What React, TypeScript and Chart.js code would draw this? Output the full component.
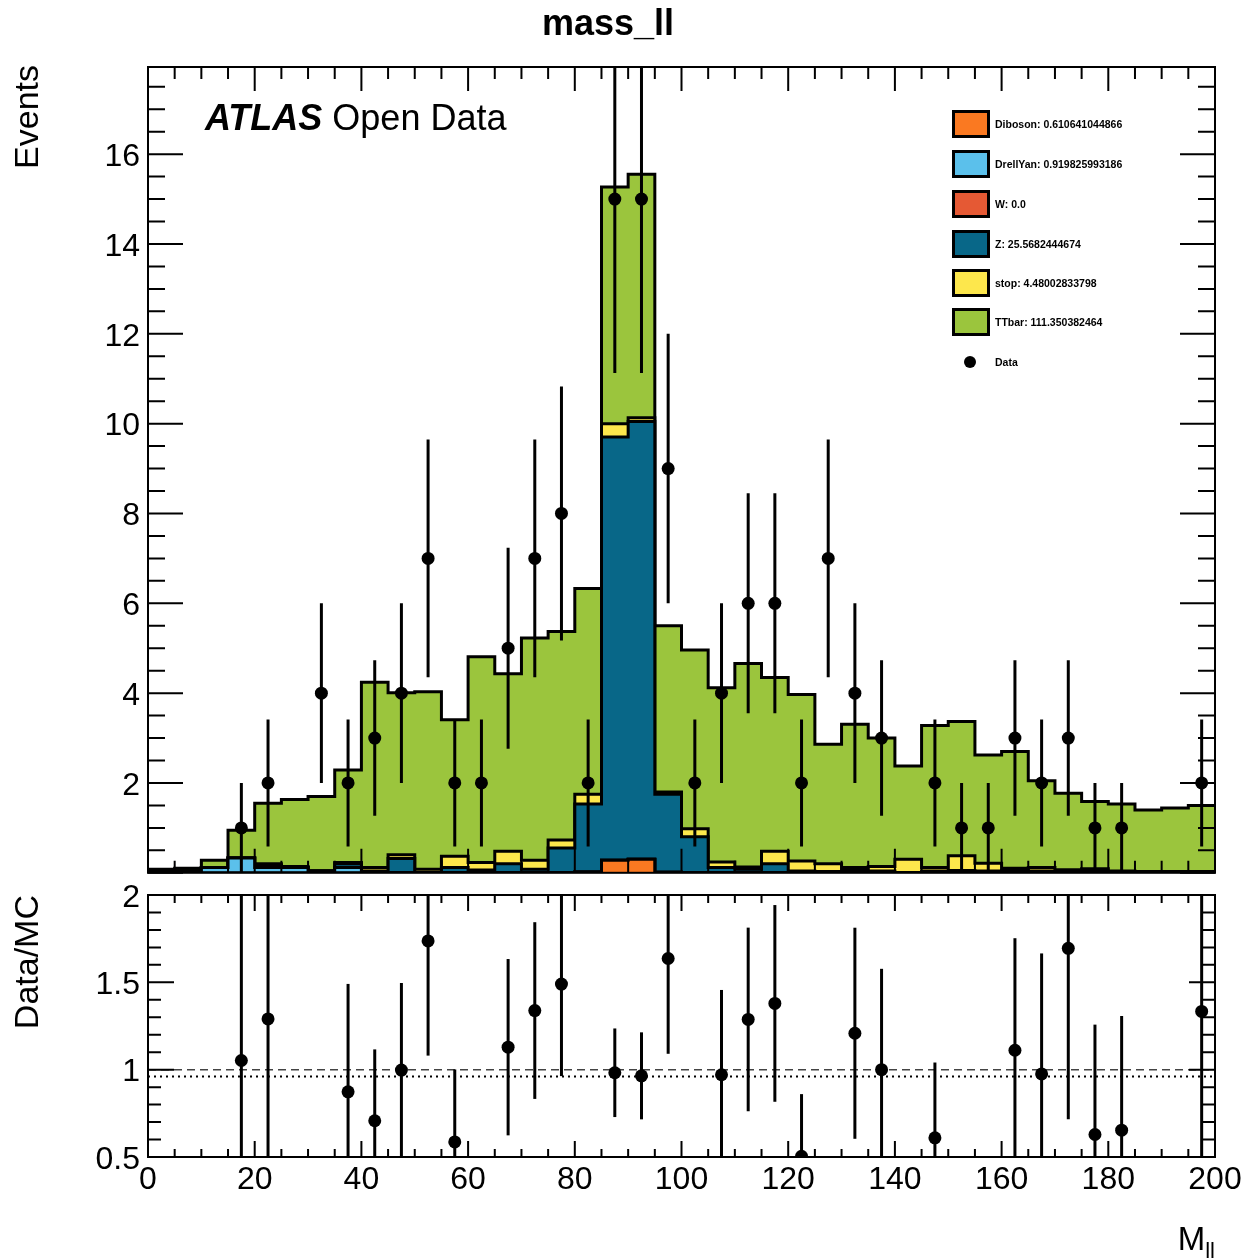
import React, { useEffect, useRef } from 'react';
import { Chart, registerables } from 'chart.js';

Chart.register(...registerables);

const FONT = '"Liberation Sans", Arial, Helvetica, sans-serif';

// ---- binning (M_ll, GeV) ----
const binLow = [0, 5, 10, 15, 20, 25, 30, 35, 40, 45, 50, 55, 60, 65, 70, 75, 80, 85, 90, 95,
  100, 105, 110, 115, 120, 125, 130, 135, 140, 145, 150, 155, 160, 165, 170, 175, 180, 185, 190, 195];
const binWidth = 5;
const xMin = 0;
const xMax = 200;

// ---- MC components (events per bin) ----
const diboson = [0, 0, 0, 0, 0, 0, 0, 0, 0, 0, 0, 0, 0, 0, 0, 0, 0.02, 0.28, 0.30, 0.01,
  0, 0, 0, 0, 0, 0, 0, 0, 0, 0, 0, 0, 0, 0, 0, 0, 0, 0, 0, 0];
const drellYan = [0.03, 0.04, 0.12, 0.33, 0.12, 0.12, 0.04, 0.12, 0, 0, 0, 0, 0, 0, 0, 0, 0, 0, 0, 0,
  0, 0, 0, 0, 0, 0, 0, 0, 0, 0, 0, 0, 0, 0, 0, 0, 0, 0, 0, 0];
const wBoson = [0, 0, 0, 0, 0, 0, 0, 0, 0, 0, 0, 0, 0, 0, 0, 0, 0, 0, 0, 0,
  0, 0, 0, 0, 0, 0, 0, 0, 0, 0, 0, 0, 0, 0, 0, 0, 0, 0, 0, 0];
const zBoson = [0, 0, 0, 0, 0.05, 0, 0, 0.08, 0.04, 0.32, 0, 0.12, 0.06, 0.2, 0.08, 0.55, 1.51, 9.42, 9.75, 1.74,
  0.8, 0.12, 0.08, 0.2, 0.04, 0.03, 0.05, 0.04, 0, 0.04, 0.05, 0.04, 0.05, 0.04, 0.03, 0.03, 0, 0, 0, 0];
const singleTop = [0, 0, 0, 0, 0.03, 0.02, 0, 0.03, 0.08, 0.08, 0.08, 0.25, 0.17, 0.28, 0.2, 0.18, 0.22, 0.3, 0.08, 0.05,
  0.18, 0.12, 0.05, 0.28, 0.22, 0.17, 0.07, 0.1, 0.3, 0.08, 0.33, 0.17, 0.05, 0.08, 0.04, 0.06, 0.04, 0.03, 0.03, 0.03];
const ttbar = [0.05, 0.06, 0.16, 0.62, 1.35, 1.49, 1.66, 2.06, 4.12, 3.61, 3.95, 3.04, 4.58, 3.95, 4.95, 4.64, 4.58, 5.27, 5.42, 3.7,
  3.98, 3.88, 4.53, 3.87, 3.71, 2.66, 3.19, 2.86, 2.08, 3.16, 2.99, 2.41, 2.6, 1.93, 1.7, 1.5, 1.49, 1.37, 1.41, 1.47];

// ---- data (events per bin) ----
const dataCounts = [0, 0, 0, 1, 2, 0, 4, 2, 3, 4, 7, 2, 2, 5, 7, 8, 2, 15, 15, 9,
  2, 4, 6, 6, 2, 7, 4, 3, 0, 2, 1, 1, 3, 2, 3, 1, 1, 0, 0, 2];

// ---- legend ----
const legendLabels = [
  'Diboson: 0.610641044866',
  'DrellYan: 0.919825993186',
  'W: 0.0',
  'Z: 25.5682444674',
  'stop: 4.48002833798',
  'TTbar: 111.350382464',
];
const seriesColors = ['#FA7921', '#5BC0EB', '#E55934', '#086788', '#FDE74C', '#9BC53D'];

// ---- axes ----
const upperYMax = 17.94;
const ratioMin = 0.5;
const ratioMax = 2;

const components = [diboson, drellYan, wBoson, zBoson, singleTop, ttbar];

function cumulative(): number[][] {
  const out: number[][] = [];
  let run = binLow.map(() => 0);
  components.forEach((c) => {
    run = run.map((v, i) => v + c[i]);
    out.push(run.slice());
  });
  return out;
}

function stepPoints(vals: number[]) {
  const pts = binLow.map((lo, i) => ({ x: lo, y: vals[i] }));
  pts.push({ x: xMax, y: vals[vals.length - 1] });
  return pts;
}

type TickCfg = {
  xMajor: number; xMinor: number; xMajorLen: number; xMinorLen: number;
  yMajor: number; yMinor: number; yMajorLen: number; yMinorLen: number;
};

function makeFramePlugin(t: TickCfg) {
  return {
    id: 'rootFrame',
    afterDraw(chart: any) {
      const { ctx, chartArea: a } = chart;
      const xs = chart.scales.x;
      const ys = chart.scales.y;
      ctx.save();
      ctx.strokeStyle = '#000';
      ctx.lineWidth = 2;
      ctx.beginPath();
      const nx = Math.floor((xs.max - xs.min) / t.xMinor + 1e-6);
      for (let k = 0; k <= nx; k++) {
        const v = xs.min + k * t.xMinor;
        const r = v / t.xMajor;
        const major = Math.abs(r - Math.round(r)) < 1e-6;
        const len = major ? t.xMajorLen : t.xMinorLen;
        const p = xs.getPixelForValue(v);
        ctx.moveTo(p, a.bottom);
        ctx.lineTo(p, a.bottom - len);
        ctx.moveTo(p, a.top);
        ctx.lineTo(p, a.top + len);
      }
      const ny = Math.floor((ys.max - ys.min) / t.yMinor + 1e-6);
      for (let k = 0; k <= ny; k++) {
        const v = ys.min + k * t.yMinor;
        const r = v / t.yMajor;
        const major = Math.abs(r - Math.round(r)) < 1e-6;
        const len = major ? t.yMajorLen : t.yMinorLen;
        const p = ys.getPixelForValue(v);
        ctx.moveTo(a.left, p);
        ctx.lineTo(a.left + len, p);
        ctx.moveTo(a.right, p);
        ctx.lineTo(a.right - len, p);
      }
      ctx.stroke();
      ctx.strokeRect(a.left, a.top, a.right - a.left, a.bottom - a.top);
      ctx.restore();
    },
  };
}

const errorBarPlugin = {
  id: 'errorBars',
  afterDatasetsDraw(chart: any) {
    const { ctx, chartArea: a } = chart;
    const ys = chart.scales.y;
    ctx.save();
    ctx.beginPath();
    ctx.rect(a.left, a.top, a.right - a.left, a.bottom - a.top);
    ctx.clip();
    chart.data.datasets.forEach((ds: any, i: number) => {
      const errs = ds.errorBars;
      if (!errs) return;
      const meta = chart.getDatasetMeta(i);
      meta.data.forEach((el: any, j: number) => {
        const d = ds.data[j];
        const e = errs[j];
        ctx.beginPath();
        ctx.moveTo(el.x, ys.getPixelForValue(d.y - e));
        ctx.lineTo(el.x, ys.getPixelForValue(d.y + e));
        ctx.lineWidth = 3;
        ctx.strokeStyle = '#000';
        ctx.stroke();
      });
    });
    ctx.restore();
  },
};

const tickFont = { family: FONT, size: 32 };

function upperConfig(): any {
  const cum = cumulative();
  const stackSets = cum.map((vals, k) => ({
    type: 'line',
    data: stepPoints(vals),
    stepped: 'before',
    fill: 'origin',
    backgroundColor: seriesColors[k],
    borderColor: '#000',
    borderWidth: 3,
    pointRadius: 0,
  }));
  const pts = binLow
    .map((lo, i) => ({ x: lo + binWidth / 2, y: dataCounts[i] }))
    .filter((p) => p.y > 0);
  const dataSet = {
    type: 'line',
    data: pts,
    showLine: false,
    pointRadius: 6.5,
    pointBackgroundColor: '#000',
    pointBorderColor: '#000',
    pointBorderWidth: 0,
    errorBars: pts.map((p) => Math.sqrt(p.y)),
  };
  return {
    type: 'line',
    data: { datasets: [dataSet, ...stackSets] },
    options: {
      animation: false,
      responsive: false,
      maintainAspectRatio: false,
      layout: { padding: { left: 8, right: 35, top: 67, bottom: 10 } },
      plugins: { legend: { display: false }, tooltip: { enabled: false } },
      scales: {
        x: { type: 'linear', min: xMin, max: xMax, display: false },
        y: {
          type: 'linear',
          min: 0,
          max: upperYMax,
          afterFit: (s: any) => { s.width = 140; },
          grid: { display: false, drawTicks: false },
          border: { display: false },
          ticks: {
            stepSize: 2,
            includeBounds: false,
            padding: 8,
            labelOffset: 3,
            color: '#000',
            font: tickFont,
            callback: (v: number) => (v === 0 ? '' : String(v)),
          },
        },
      },
    },
    plugins: [
      errorBarPlugin,
      makeFramePlugin({ xMajor: 20, xMinor: 5, xMajorLen: 24, xMinorLen: 12, yMajor: 2, yMinor: 0.5, yMajorLen: 35, yMinorLen: 17 }),
    ],
  };
}

function lowerConfig(): any {
  const cum = cumulative();
  const total = cum[cum.length - 1];
  const pts: { x: number; y: number }[] = [];
  const errs: number[] = [];
  binLow.forEach((lo, i) => {
    const n = dataCounts[i];
    if (n <= 0 || total[i] <= 0) return;
    const r = n / total[i];
    if (r < ratioMin || r > ratioMax) return;
    pts.push({ x: lo + binWidth / 2, y: r });
    errs.push(Math.sqrt(n) / total[i]);
  });
  const dataSum = dataCounts.reduce((s, v) => s + v, 0);
  const mcSum = total.reduce((s, v) => s + v, 0);
  const overall = dataSum / mcSum;
  return {
    type: 'line',
    data: {
      datasets: [
        {
          type: 'line',
          data: pts,
          showLine: false,
          pointRadius: 6.5,
          pointBackgroundColor: '#000',
          pointBorderColor: '#000',
          pointBorderWidth: 0,
          errorBars: errs,
        },
        {
          type: 'line',
          data: [{ x: xMin, y: 1 }, { x: xMax, y: 1 }],
          borderColor: '#444',
          borderWidth: 1.5,
          borderDash: [8, 5],
          pointRadius: 0,
          fill: false,
        },
        {
          type: 'line',
          data: [{ x: xMin, y: overall }, { x: xMax, y: overall }],
          borderColor: '#000',
          borderWidth: 2,
          borderDash: [2, 4],
          pointRadius: 0,
          fill: false,
        },
      ],
    },
    options: {
      animation: false,
      responsive: false,
      maintainAspectRatio: false,
      layout: { padding: { left: 8, right: 35, top: 45, bottom: 63 } },
      plugins: { legend: { display: false }, tooltip: { enabled: false } },
      scales: {
        x: {
          type: 'linear',
          min: xMin,
          max: xMax,
          afterFit: (s: any) => { s.height = 40; },
          grid: { display: false, drawTicks: false },
          border: { display: false },
          ticks: { stepSize: 20, padding: 4, maxRotation: 0, autoSkip: false, color: '#000', font: tickFont },
        },
        y: {
          type: 'linear',
          min: ratioMin,
          max: ratioMax,
          afterFit: (s: any) => { s.width = 140; },
          grid: { display: false, drawTicks: false },
          border: { display: false },
          ticks: { stepSize: 0.5, padding: 8, labelOffset: 3, color: '#000', font: tickFont, callback: (v: number) => String(v) },
        },
      },
    },
    plugins: [
      errorBarPlugin,
      makeFramePlugin({ xMajor: 20, xMinor: 5, xMajorLen: 16, xMinorLen: 8, yMajor: 0.5, yMinor: 0.1, yMajorLen: 26, yMinorLen: 13 }),
    ],
  };
}

export default function App() {
  const topRef = useRef<HTMLCanvasElement>(null);
  const botRef = useRef<HTMLCanvasElement>(null);

  useEffect(() => {
    const c1 = new Chart(topRef.current as HTMLCanvasElement, upperConfig());
    const c2 = new Chart(botRef.current as HTMLCanvasElement, lowerConfig());
    return () => {
      c1.destroy();
      c2.destroy();
    };
  }, []);

  const legendCenters = [124, 164, 204, 244, 283, 322];

  return (
    <div style={{ position: 'absolute', left: 0, top: 0, width: 1250, height: 1260, background: '#fff', fontFamily: FONT, color: '#000', overflow: 'hidden' }}>
      <canvas ref={topRef} width={1250} height={900} style={{ position: 'absolute', left: 0, top: 0, width: 1250, height: 900, display: 'block' }} />
      <canvas ref={botRef} width={1250} height={410} style={{ position: 'absolute', left: 0, top: 850, width: 1250, height: 410, display: 'block' }} />

      <div style={{ position: 'absolute', left: 608, top: 5, transform: 'translateX(-50%)', fontSize: 36, lineHeight: '36px', fontWeight: 'bold', whiteSpace: 'nowrap' }}>mass_ll</div>

      <div style={{ position: 'absolute', left: 205, top: 100, fontSize: 36, lineHeight: '36px', whiteSpace: 'nowrap' }}>
        <span style={{ fontWeight: 'bold', fontStyle: 'italic' }}>ATLAS</span> Open Data
      </div>

      <div style={{ position: 'absolute', left: 9, top: 265, width: 200, textAlign: 'right', transform: 'rotate(-90deg)', transformOrigin: '0 0', fontSize: 34, lineHeight: '34px', whiteSpace: 'nowrap' }}>Events</div>
      <div style={{ position: 'absolute', left: 9, top: 1095, width: 200, textAlign: 'right', transform: 'rotate(-90deg)', transformOrigin: '0 0', fontSize: 34, lineHeight: '34px', whiteSpace: 'nowrap' }}>Data/MC</div>

      <div style={{ position: 'absolute', right: 35, top: 1222, fontSize: 33, lineHeight: '33px', whiteSpace: 'nowrap' }}>
        M<span style={{ fontSize: 22, position: 'relative', top: 8 }}>ll</span>
      </div>

      {legendLabels.map((lab, k) => (
        <React.Fragment key={lab}>
          <div style={{ position: 'absolute', left: 952, top: legendCenters[k] - 14, width: 38, height: 28, boxSizing: 'border-box', border: '3px solid #000', background: seriesColors[k] }} />
          <div style={{ position: 'absolute', left: 995, top: legendCenters[k] - 7, fontSize: 10.5, lineHeight: '14px', fontWeight: 'bold', whiteSpace: 'nowrap' }}>{lab}</div>
        </React.Fragment>
      ))}
      <div style={{ position: 'absolute', left: 964, top: 356, width: 12, height: 12, borderRadius: '50%', background: '#000' }} />
      <div style={{ position: 'absolute', left: 995, top: 355, fontSize: 10.5, lineHeight: '14px', fontWeight: 'bold', whiteSpace: 'nowrap' }}>Data</div>
    </div>
  );
}
